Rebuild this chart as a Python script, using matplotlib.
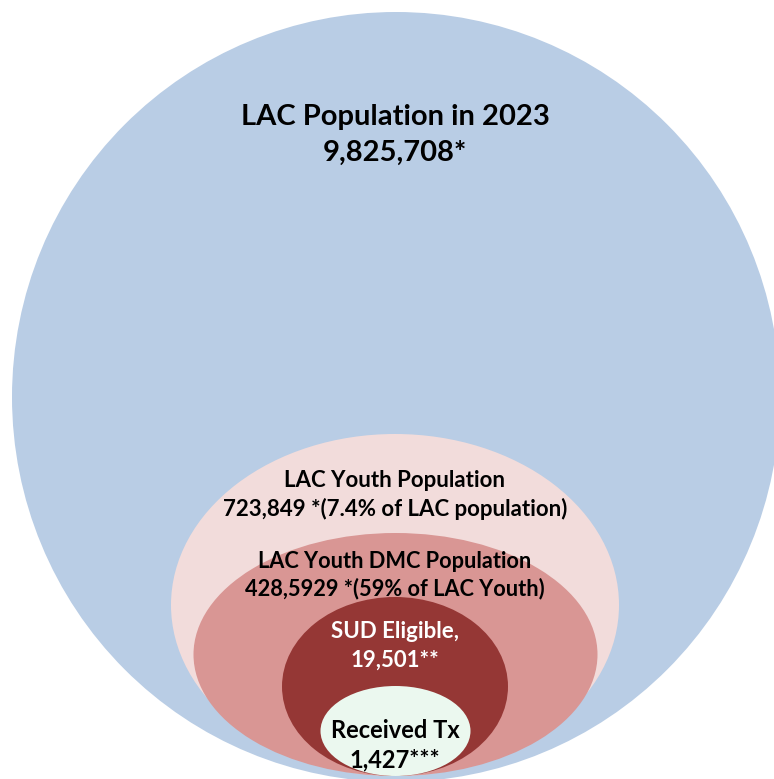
import matplotlib
matplotlib.use("Agg")
import matplotlib.pyplot as plt
from matplotlib.patches import Ellipse

# ---- data ----
groups = ["LAC Population in 2023", "LAC Youth Population", "LAC Youth DMC Population",
          "SUD Eligible,", "Received Tx"]
value_labels = ["9,825,708*", "723,849 *(7.4% of LAC population)",
                "428,5929 *(59% of LAC Youth)", "19,501**", "1,427***"]

# ---- layout (pixel coordinates) ----
centers = [(396, 397), (395, 605), (395.5, 654.5), (395, 686.5), (395.5, 731)]
widths = [768, 448, 404, 226, 150]
heights = [770, 342, 243, 179, 90]
colors = ["#B9CDE5", "#F2DCDB", "#D99694", "#953735", "#EBF8EF"]
text_colors = ["black", "black", "black", "white", "black"]
title_y = [(117, 153), (480, 509), (561, 589), (632, 660), (730, 760)]
font_sizes = [21, 16, 15.7, 16, 17]

plt.rcParams['font.family'] = ['Lato', 'DejaVu Sans']

fig = plt.figure(figsize=(7.74, 7.79), dpi=100)
ax = fig.add_axes([0, 0, 1, 1])
ax.set_xlim(0, 774)
ax.set_ylim(779, 0)
ax.axis('off')

for (cx, cy), w, h, c in zip(centers, widths, heights, colors):
    ax.add_patch(Ellipse((cx, cy), w, h, facecolor=c, edgecolor='none'))

for g, v, (y1, y2), fs, tc in zip(groups, value_labels, title_y, font_sizes, text_colors):
    ax.text(395, y1, g, ha='center', va='center', fontsize=fs, fontweight='bold', color=tc)
    ax.text(395, y2, v, ha='center', va='center', fontsize=fs, fontweight='bold', color=tc)

fig.savefig("out.png", dpi=100)
